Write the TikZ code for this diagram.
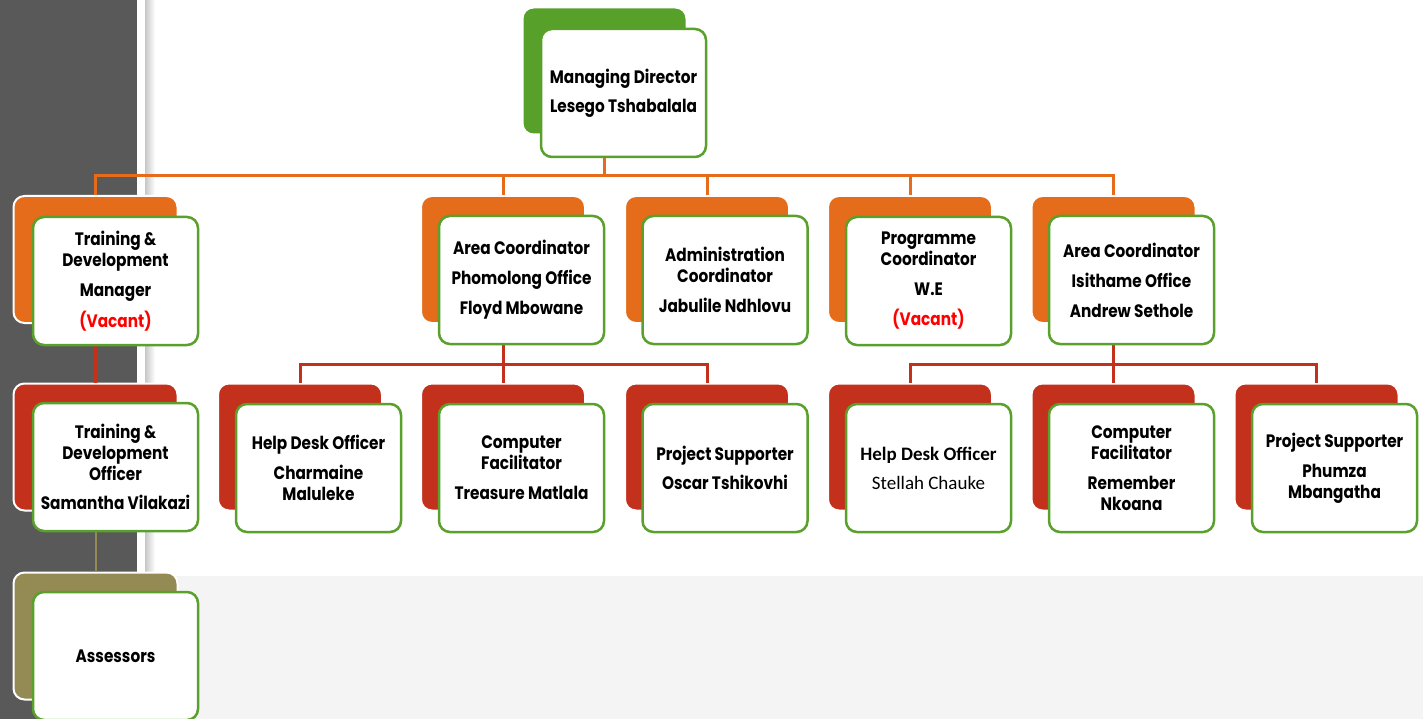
\documentclass[tikz,border=0pt]{standalone}
\usepackage{fontspec}
\setmainfont{Poppins}[FakeStretch=0.85]
\newfontfamily\calfont{Carlito}

\definecolor{panel}{HTML}{595959}
\definecolor{lightbg}{HTML}{F4F4F4}
\definecolor{orgfill}{HTML}{E46C1A}
\definecolor{redfill}{HTML}{C3301C}
\definecolor{mdgreen}{HTML}{57A02A}
\definecolor{boxgreen}{HTML}{5AA02C}
\definecolor{olivefill}{HTML}{948A54}
\definecolor{vacred}{HTML}{FF0000}

\newcommand\boxfont{\fontsize{18}{21}\selectfont\bfseries}
\newcommand\vac{\textcolor{vacred}{(Vacant)}}

\tikzset{
  back/.style={rounded corners=11pt,minimum width=164pt,minimum height=127pt,inner sep=0pt,draw=white,line width=2pt},
  front/.style={rounded corners=11pt,minimum width=165pt,minimum height=128pt,inner sep=0pt,fill=white,draw=boxgreen,line width=2.5pt,align=center,font=\boxfont},
  orgline/.style={draw=orgfill,line width=3pt},
  redline/.style={draw=redfill,line width=3pt},
  oliveline/.style={draw=olivefill,line width=2pt}
}

\begin{document}
\begin{tikzpicture}[x=1pt,y=-1pt]

      \useasboundingbox (0,0) rectangle (1423,719);
      \fill[white] (0,0) rectangle (1423,719);
      \fill[panel] (0,0) rectangle (137,719);
      \shade[left color=black!22,right color=white] (145,0) rectangle (155,576);
      \fill[lightbg] (145,576) rectangle (1423,719);

      \node[back,fill=mdgreen] (mdb) at (604.5,71){};

      \node[back,fill=orgfill] (tdmb) at (95.5,259.5){};
      \node[back,fill=orgfill] (phb) at (503,259.5){};
      \node[back,fill=orgfill] (adb) at (707,259.5){};
      \node[back,fill=orgfill] (pcb) at (910,259.5){};
      \node[back,fill=orgfill] (isb) at (1113.5,259.5){};

      \node[back,fill=redfill] (tdob) at (95.5,447){};
      \node[back,fill=redfill] (hdb) at (300,447){};
      \node[back,fill=redfill] (cfb) at (503,447){};
      \node[back,fill=redfill] (psb) at (707,447){};
      \node[back,fill=redfill] (hd2b) at (910,447){};
      \node[back,fill=redfill] (cf2b) at (1113.5,447){};
      \node[back,fill=redfill] (ps2b) at (1316.5,447){};

      \node[back,fill=olivefill] (asb) at (95.5,636){};

      \coordinate (top) at (604.5,176);
      \coordinate (pj) at (503,364);
      \coordinate (ij) at (1113.5,364);

      \draw[orgline] (mdb.south) -- (top);
      \draw[orgline] (tdmb.north) |- (top);
      \draw[orgline] (phb.north) |- (top);
      \draw[orgline] (adb.north) |- (top);
      \draw[orgline] (pcb.north) |- (top);
      \draw[orgline] (isb.north) |- (top);

      \draw[redline] (tdmb.south) -- (tdob.north);
      \draw[redline] (phb.south) -- (cfb.north);
      \draw[redline] (hdb.north) |- (pj);
      \draw[redline] (psb.north) |- (pj);
      \draw[redline] (isb.south) -- (cf2b.north);
      \draw[redline] (hd2b.north) |- (ij);
      \draw[redline] (ps2b.north) |- (ij);
      \draw[oliveline] (tdob.south) -- (asb.north);

      \node[front] (md) at (623.5,93){Managing Director\\[8pt]Lesego Tshabalala};

      \node[front] (tdm) at (115.5,281){Training \&\\Development\\[9pt]Manager\\[9pt]\vac};
      \node[front] (ph) at (521.5,280){Area Coordinator\\[9pt]Phomolong Office\\[9pt]Floyd Mbowane};
      \node[front] (ad) at (725,280){Administration\\Coordinator\\[9pt]Jabulile Ndhlovu};
      \node[front] (pc) at (928.5,281){Programme\\Coordinator\\[9pt]W.E\\[9pt]\vac};
      \node[front] (is) at (1131.5,280){Area Coordinator\\[9pt]Isithame Office\\[9pt]Andrew Sethole};

      \node[front] (tdo) at (115.5,467){Training \&\\Development\\Officer\\[8pt]Samantha Vilakazi};
      \node[front] (hd) at (318.5,468){Help Desk Officer\\[9pt]Charmaine\\Maluleke};
      \node[front] (cf) at (521.5,468){Computer\\Facilitator\\[9pt]Treasure Matlala};
      \node[front] (ps) at (725,468){Project Supporter\\[8pt]Oscar Tshikovhi};
      \node[front,font=\calfont\fontsize{19}{24}\selectfont] (hd2) at (928.5,468){\bfseries Help Desk Officer\\[5pt]Stellah Chauke};
      \node[front] (cf2) at (1131.5,468){Computer\\Facilitator\\[9pt]Remember\\Nkoana};
      \node[front] (ps2) at (1334.5,468){Project Supporter\\[9pt]Phumza\\Mbangatha};

      \node[front] (as) at (115.5,656){Assessors};

\end{tikzpicture}
\end{document}
